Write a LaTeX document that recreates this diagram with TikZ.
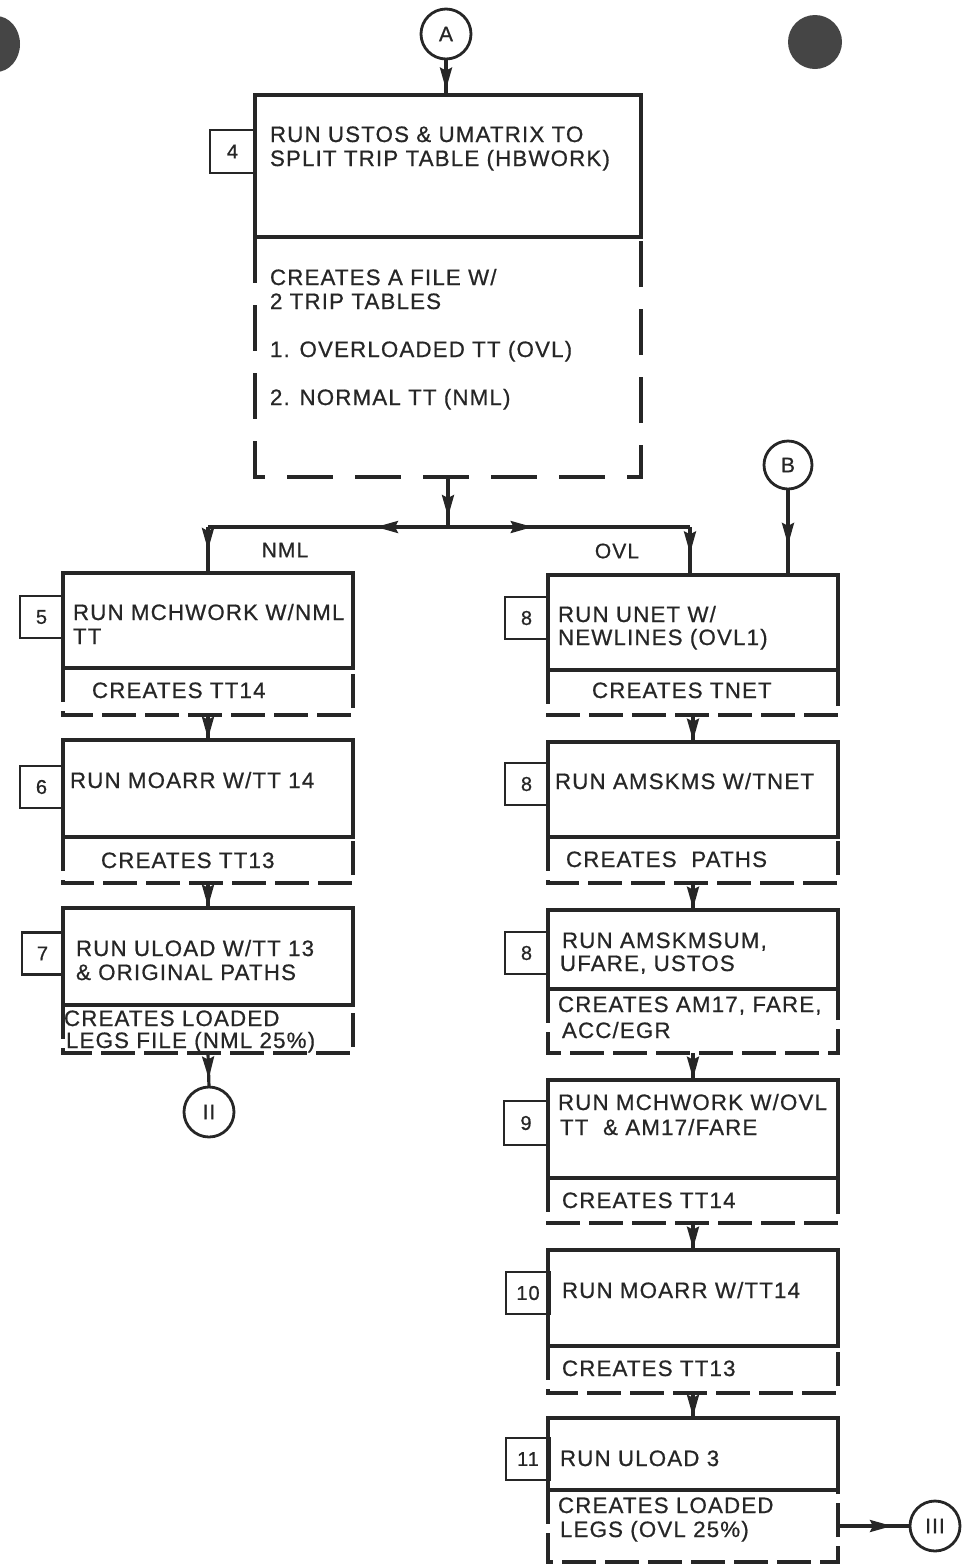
\documentclass[tikz,border=0pt]{standalone}
\usepackage{fontspec}
\setmainfont{Liberation Sans}[LetterSpace=5.2,FakeBold=0.7]
\usetikzlibrary{arrows.meta,decorations.markings}
\definecolor{ink}{HTML}{262626}
\definecolor{blob}{HTML}{454545}
\begin{document}
\begin{tikzpicture}[x=1pt,y=-1pt,
  every node/.style={inner sep=0pt, outer sep=0pt, text=ink},
  ubox/.style={draw=ink, line width=3.4pt, anchor=north west},
  lbox/.style={anchor=north west},
  dline/.style={draw=ink, line width=3.4pt, dash pattern=on 34pt off 9pt},
  bigdline/.style={draw=ink, line width=3.4pt, dash pattern=on 46pt off 22pt},
  numbox/.style={draw=ink, line width=2.8pt, anchor=east, minimum width=43pt, minimum height=42pt, font=\fontsize{20}{22}\selectfont},
  txt/.style={anchor=base west, font=\fontsize{22.3}{24}\selectfont},
  lbl/.style={font=\fontsize{21}{22}\selectfont},
  conn/.style={draw=ink, line width=3.2pt},
  circ/.style={draw=ink, line width=2.8pt, circle, minimum size=#1, font=\fontsize{21}{22}\selectfont},
  midarrow/.style={postaction={decorate}, decoration={markings, mark=at position #1 with {\arrow{Stealth[length=22pt,width=12pt,inset=3pt]}}}}
]
\useasboundingbox (0,0) rectangle (969,1567);

% ink blobs
\fill[blob] (-4,44) ellipse [x radius=24, y radius=28];
\fill[blob] (815,42) ellipse [x radius=27, y radius=27];

% connectors A and B
\node[circ=50pt] (A) at (446,34) {A};
\node[circ=48pt] (B) at (788,465) {B};

% ---------- box 4 ----------
\node[ubox, minimum width=386pt, minimum height=142pt] (u4) at (255,95) {};
\node[lbox, minimum width=386pt, minimum height=240pt] (d4) at (255,237) {};
\draw[bigdline] (d4.north west) -- (d4.south west) -- (d4.south east) -- (d4.north east);
\node[numbox, minimum width=45pt, minimum height=43pt] (n4) at (255,151.5) {4};
\node[txt] (t4a) at (270,142) {RUN USTOS \& UMATRIX TO};
\node[txt] (t4b) at (270,166) {SPLIT TRIP TABLE (HBWORK)};
\node[txt] (t4c) at (270,285) {CREATES A FILE W/};
\node[txt] (t4d) at (270,309) {2 TRIP TABLES};
\node[txt] (t4e) at (270,357) {1. OVERLOADED TT (OVL)};
\node[txt] (t4f) at (270,405) {2. NORMAL TT (NML)};

% ---------- left column ----------
\node[ubox, minimum width=290pt, minimum height=95pt] (u5) at (63,573) {};
\node[lbox, minimum width=290pt, minimum height=47pt] (d5) at (63,668) {};
\draw[dline] (d5.north west) -- (d5.south west) -- (d5.south east) -- (d5.north east);
\node[numbox] (n5) at (63,617) {5};
\node[txt] (t5a) at (73,620) {RUN MCHWORK W/NML};
\node[txt] (t5b) at (73,644) {TT};
\node[txt] (t5c) at (92,698) {CREATES TT14};

\node[ubox, minimum width=290pt, minimum height=97pt] (u6) at (63,740) {};
\node[lbox, minimum width=290pt, minimum height=46pt] (d6) at (63,837) {};
\draw[dline] (d6.north west) -- (d6.south west) -- (d6.south east) -- (d6.north east);
\node[numbox] (n6) at (63,787) {6};
\node[txt] (t6a) at (70,788) {RUN MOARR W/TT 14};
\node[txt] (t6b) at (101,868) {CREATES TT13};

\node[ubox, minimum width=290pt, minimum height=97pt] (u7) at (63,908) {};
\node[lbox, minimum width=290pt, minimum height=48pt] (d7) at (63,1005) {};
\draw[dline] (d7.north west) -- (d7.south west) -- (d7.south east) -- (d7.north east);
\node[numbox, minimum width=41pt] (n7) at (63,953.5) {7};
\node[txt] (t7a) at (76,956) {RUN ULOAD W/TT 13};
\node[txt] (t7b) at (76,980) {\& ORIGINAL PATHS};
\node[txt] (t7c) at (64,1026) {CREATES LOADED};
\node[txt] (t7d) at (66,1048) {LEGS FILE (NML 25\%)};

\node[circ=50pt] (C2) at (209,1112) {II};

% ---------- right column ----------
\node[ubox, minimum width=290pt, minimum height=95pt] (u8a) at (548,575) {};
\node[lbox, minimum width=290pt, minimum height=45pt] (d8a) at (548,670) {};
\draw[dline] (d8a.north west) -- (d8a.south west) -- (d8a.south east) -- (d8a.north east);
\node[numbox] (n8a) at (548,618) {8};
\node[txt] (t8a1) at (558,622) {RUN UNET W/};
\node[txt] (t8a2) at (558,645) {NEWLINES (OVL1)};
\node[txt] (t8a3) at (592,698) {CREATES TNET};

\node[ubox, minimum width=290pt, minimum height=95pt] (u8b) at (548,742) {};
\node[lbox, minimum width=290pt, minimum height=46pt] (d8b) at (548,837) {};
\draw[dline] (d8b.north west) -- (d8b.south west) -- (d8b.south east) -- (d8b.north east);
\node[numbox] (n8b) at (548,784) {8};
\node[txt] (t8b1) at (555,789) {RUN AMSKMS W/TNET};
\node[txt] (t8b2) at (566,867) {CREATES\ \ PATHS};

\node[ubox, minimum width=290pt, minimum height=79pt] (u8c) at (548,910) {};
\node[lbox, minimum width=290pt, minimum height=64pt] (d8c) at (548,989) {};
\draw[dline] (d8c.north west) -- (d8c.south west) -- (d8c.south east) -- (d8c.north east);
\node[numbox] (n8c) at (548,953) {8};
\node[txt] (t8c1) at (562,948) {RUN AMSKMSUM,};
\node[txt] (t8c2) at (560,971) {UFARE, USTOS};
\node[txt] (t8c3) at (558,1012) {CREATES AM17, FARE,};
\node[txt] (t8c4) at (562,1038) {ACC/EGR};

\node[ubox, minimum width=290pt, minimum height=98pt] (u9) at (548,1080) {};
\node[lbox, minimum width=290pt, minimum height=45pt] (d9) at (548,1178) {};
\draw[dline] (d9.north west) -- (d9.south west) -- (d9.south east) -- (d9.north east);
\node[numbox, minimum width=44pt, minimum height=44pt] (n9) at (548,1123) {9};
\node[txt] (t9a) at (558,1110) {RUN MCHWORK W/OVL};
\node[txt] (t9b) at (560,1135) {TT \ \& AM17/FARE};
\node[txt] (t9c) at (562,1208) {CREATES TT14};

\node[ubox, minimum width=290pt, minimum height=96pt] (u10) at (548,1250) {};
\node[lbox, minimum width=290pt, minimum height=47pt] (d10) at (548,1346) {};
\draw[dline] (d10.north west) -- (d10.south west) -- (d10.south east) -- (d10.north east);
\node[numbox, minimum width=44pt] (n10) at (550,1293) {10};
\node[txt] (t10a) at (562,1298) {RUN MOARR W/TT14};
\node[txt] (t10b) at (562,1376) {CREATES TT13};

\node[ubox, minimum width=290pt, minimum height=72pt] (u11) at (548,1418) {};
\node[lbox, minimum width=290pt, minimum height=72pt] (d11) at (548,1490) {};
\draw[dline] (d11.north west) -- (d11.south west) -- (d11.south east) -- (d11.north east);
\node[numbox, minimum width=44pt] (n11) at (550,1459) {11};
\node[txt] (t11a) at (560,1466) {RUN ULOAD 3};
\node[txt] (t11b) at (558,1513) {CREATES LOADED};
\node[txt] (t11c) at (560,1537) {LEGS (OVL 25\%)};

\node[circ=50pt] (C3) at (935,1526) {III};

% split labels
\node[lbl] (nml) at (285,550) {NML};
\node[lbl] (ovl) at (617,551) {OVL};

% ---------- connectors ----------
\coordinate (j) at (448,527);
\coordinate (jl) at (208,527);
\coordinate (jr) at (690,527);
\draw[conn, midarrow=0.85] (A.south) -- (A.south |- u4.north);
\draw[conn, midarrow=0.8] (d4.south) -- (j);
\draw[conn, midarrow=0.3] (j) -- (jl);
\draw[conn, midarrow=0.5] (jl) -- (u5.north);
\draw[conn, midarrow=0.35] (j) -- (jr);
\draw[conn, midarrow=0.55] (jr) -- (jr |- u8a.north);
\draw[conn, midarrow=0.65] (B.south) -- (B.south |- u8a.north);

\draw[conn, midarrow=0.95] (d5.south) -- (u6.north);
\draw[conn, midarrow=0.95] (d6.south) -- (u7.north);
\draw[conn, midarrow=0.75] (d7.south) -- (C2.north);

\draw[conn, midarrow=0.95] (d8a.south) -- (u8b.north);
\draw[conn, midarrow=0.95] (d8b.south) -- (u8c.north);
\draw[conn, midarrow=0.95] (d8c.south) -- (u9.north);
\draw[conn, midarrow=0.95] (d9.south) -- (u10.north);
\draw[conn, midarrow=0.95] (d10.south) -- (u11.north);
\draw[conn, midarrow=0.75] (d11.east) -- (C3.west);
\end{tikzpicture}
\end{document}
